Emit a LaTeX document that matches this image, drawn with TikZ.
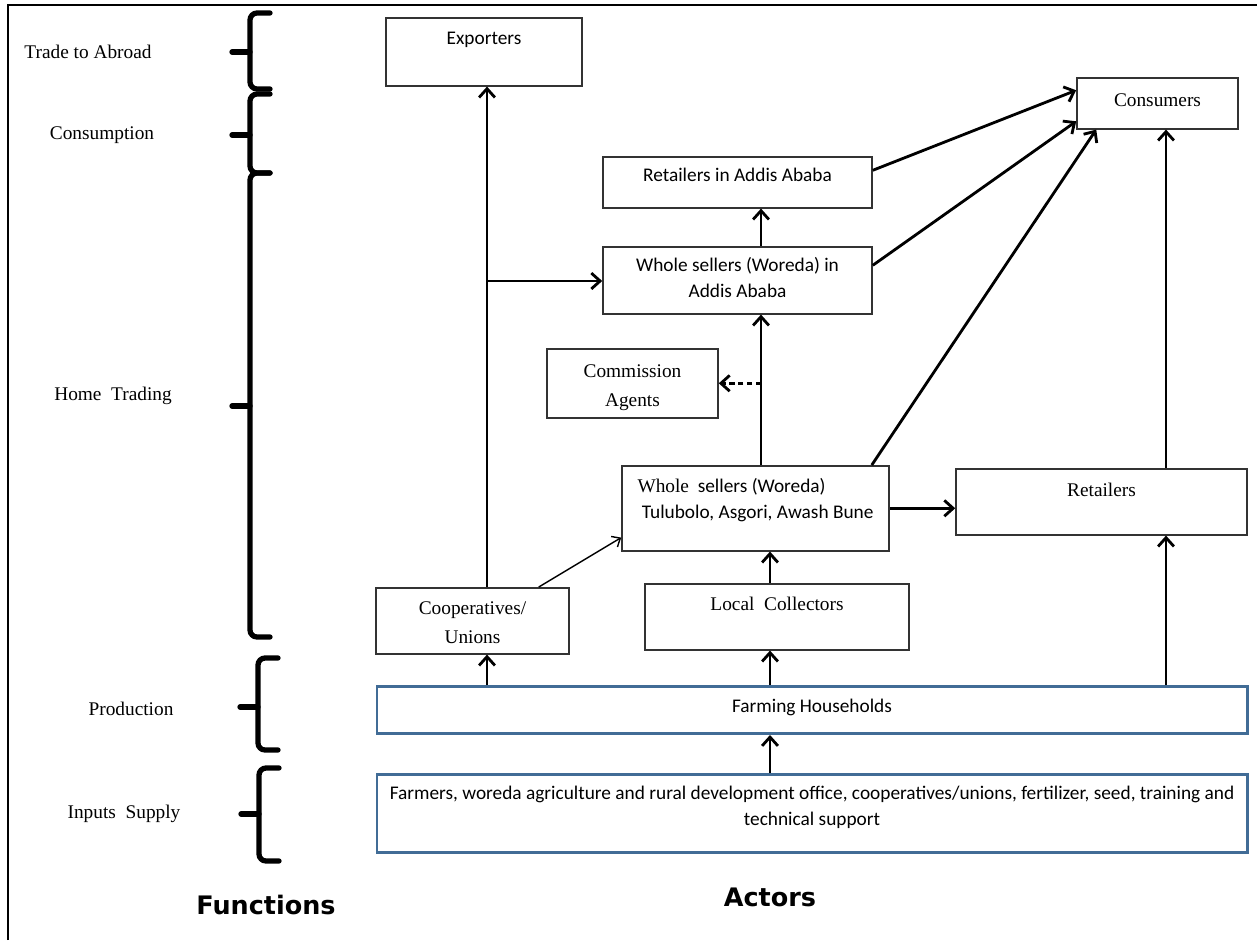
\documentclass[tikz,border=0pt]{standalone}
\usepackage{fontspec}
\setmainfont{Liberation Serif}
\setsansfont{Carlito}
\newfontfamily\titlefont{DejaVu Sans}
\usetikzlibrary{positioning,arrows.meta}
\definecolor{frameblue}{RGB}{65,108,150}
\newdimen\pxu \pxu=0.02cm
\newcommand{\boxlines}[2][c]{\begin{tabular}[t]{@{}#1@{}}#2\end{tabular}}
\tikzset{
  actor/.style={draw=black!80, line width=0.9pt, anchor=north, inner sep=0pt,
    font=\sffamily\fontsize{11}{14.8}\selectfont},
  serifactor/.style={actor, font=\rmfamily\fontsize{11}{16.5}\selectfont},
  base/.style={actor, draw=frameblue, line width=1.7pt},
  fn/.style={font=\rmfamily\fontsize{11}{13}\selectfont, inner sep=0pt},
  title/.style={font=\titlefont\bfseries\fontsize{14.5}{17}\selectfont, inner sep=0pt},
  flow/.style={-{Straight Barb[length=5pt,width=9pt]}, line width=1.6pt},
  thinflow/.style={-{Straight Barb[length=4pt,width=7pt]}, line width=0.8pt},
  dashflow/.style={flow, dash pattern=on 3pt off 2pt},
  brace/.style={line width=3pt, rounded corners=4pt, line cap=round}
}

\begin{document}
\begin{tikzpicture}[x=0.02cm, y=-0.02cm]
\useasboundingbox (0,0) rectangle (1257,940);
\draw[line width=1.1pt] (8,940) -- (8,5) -- (1257,5);

% functions on the left
\foreach \ytop/\ytip/\ybot/\xb in {13/52/89/250, 94/135/173/250, 173/406/637/250, 658/707/750/258, 768/814/861/259}
{
  \draw[brace] (\xb+20,\ytop) -- (\xb,\ytop) -- (\xb,\ybot) -- (\xb+20,\ybot);
  \draw[brace] (\xb-18,\ytip) -- (\xb,\ytip);
}
\node[fn] (ftrade) at (88,52) {Trade to Abroad};
\node[fn] (fcons)  at (102,135) {Consumption};
\node[fn] (fhome)  at (113,396) {Home\ \ Trading};
\node[fn] (fprod)  at (131,709) {Production};
\node[fn] (finput) at (124,814) {Inputs\ \ Supply};

% actors
\node[actor, minimum width=196\pxu, text height=27\pxu, text depth=41\pxu] (exp) at (484,17) {Exporters};
\node[serifactor, minimum width=161\pxu, text height=29\pxu, text depth=22\pxu] (cons) at (1157.5,77) {Consumers};
\node[actor, minimum width=269\pxu, text height=25\pxu, text depth=26\pxu] (raa) at (737.5,156) {Retailers in Addis Ababa};
\node[actor, minimum width=269\pxu, text height=25\pxu, text depth=42\pxu] (wsaa) at (737.5,246) {\boxlines{Whole sellers (Woreda) in\\Addis Ababa}};
\node[serifactor, minimum width=171\pxu, text height=29\pxu, text depth=40\pxu] (cag) at (632.5,348) {\boxlines{Commission\\Agents}};
\node[actor, minimum width=267\pxu, text height=27\pxu, text depth=58\pxu] (wsw) at (755.5,465) {\boxlines[l]{{\rmfamily Whole}\ \ sellers (Woreda)\\\ Tulubolo, Asgori, Awash Bune}};
\node[serifactor, minimum width=291\pxu, text height=28\pxu, text depth=38\pxu] (ret) at (1101.5,468) {Retailers};
\node[serifactor, minimum width=193\pxu, text height=27\pxu, text depth=39\pxu] (coop) at (472.5,587) {\boxlines{Cooperatives/\\Unions}};
\node[serifactor, minimum width=264\pxu, text height=27\pxu, text depth=39\pxu] (lc) at (777,583) {Local\ \ Collectors};
\node[base, minimum width=870\pxu, text height=26\pxu, text depth=21\pxu] (fh) at (812,685) {Farming Households};
\node[base, minimum width=870\pxu, text height=25\pxu, text depth=53\pxu] (fs) at (812,773) {\boxlines{Farmers, woreda agriculture and rural development office, cooperatives/unions, fertilizer, seed, training and\\technical support}};

\node[title] (functions) at (266,905) {Functions};
\node[title] (actors) at (770,897) {Actors};

\coordinate (trunk) at (487,281);
\coordinate (midx) at (770,0);
\coordinate (upx) at (761,0);
\coordinate (retx) at (1166,0);

\path[flow]
  (fs.north -| midx) edge (fh.south -| midx)
  (fh.north -| midx) edge (lc.south -| midx)
  (lc.north -| midx) edge (wsw.south -| midx)
  (fh.north -| trunk) edge (coop.south -| trunk)
  (fh.north -| retx) edge (ret.south -| retx)
  (ret.north -| retx) edge (cons.south -| retx)
  (wsw.north -| upx) edge (wsaa.south -| upx)
  (wsaa.north -| upx) edge (raa.south -| upx)
  (coop.north -| trunk) edge (exp.south -| trunk)
  (trunk) edge (trunk -| wsaa.west)
  (wsw.east) edge (wsw.east -| ret.west)
  ([yshift=12\pxu]raa.east) edge ([yshift=13\pxu]cons.west)
  ([yshift=15\pxu]wsaa.east) edge ([yshift=-18\pxu]cons.west)
  ([xshift=-18\pxu]wsw.north east) edge ([xshift=20\pxu]cons.south west);
\draw[dashflow] (cag.east -| upx) -- (cag.east);
\draw[thinflow] ([xshift=-31\pxu]coop.north east) -- ([yshift=14\pxu]wsw.south west);
\end{tikzpicture}
\end{document}
